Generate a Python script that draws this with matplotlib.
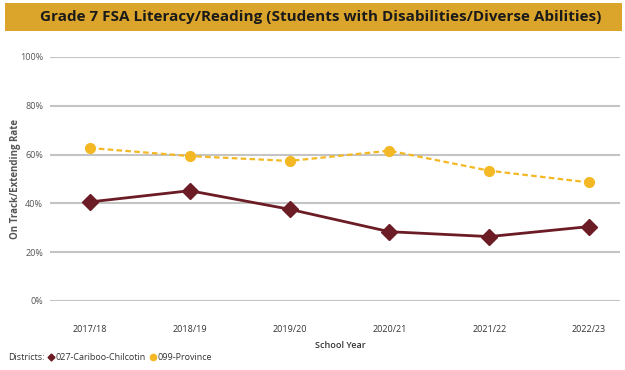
import matplotlib
matplotlib.use("Agg")
import matplotlib.pyplot as plt
from matplotlib.lines import Line2D
from matplotlib.patches import Rectangle

years = ["2017/18", "2018/19", "2019/20", "2020/21", "2021/22", "2022/23"]
cariboo = [40.6, 45.2, 37.6, 28.4, 26.4, 30.5]
province = [62.7, 59.4, 57.4, 61.6, 53.4, 48.6]
yticks = [0, 20, 40, 60, 80, 100]
ytick_labels = ["0%", "20%", "40%", "60%", "80%", "100%"]

maroon = "#6B1C24"
gold = "#F4B824"
banner = "#DBA52B"
grey_text = "#555555"

W, H = 625, 370
fig = plt.figure(figsize=(W / 100, H / 100), dpi=100)
fig.patch.set_facecolor("white")

# title banner
fig.patches.append(Rectangle((5 / W, 1 - 31 / H), 617 / W, 28 / H,
                             transform=fig.transFigure, facecolor=banner,
                             edgecolor="none"))
fig.text(321 / W, 1 - 17.5 / H,
         "Grade 7 FSA Literacy/Reading (Students with Disabilities/Diverse Abilities)",
         ha="center", va="center", fontsize=11, fontweight="bold",
         family="Open Sans", color="#1a1a1a")

ax = fig.add_axes([50 / W, 1 - 301 / H, 570 / W, 244 / H])
x = list(range(len(years)))
ax.set_xlim(-0.4, 5.31)
ax.set_ylim(0, 100)

for v in yticks:
    ax.axhline(v, color="#C4C4C4", lw=1.5, zorder=1)

ax.plot(x, province, color=gold, lw=1.6, ls=(0, (2.5, 1.5)), marker="o",
        ms=7, zorder=3, clip_on=False)
ax.plot(x, cariboo, color=maroon, lw=2, marker="D", ms=8, zorder=4,
        clip_on=False)

for s in ax.spines.values():
    s.set_visible(False)
ax.set_yticks(yticks)
ax.set_yticklabels(ytick_labels, fontsize=6.5, color=grey_text, family="Open Sans")
ax.set_xticks(x)
ax.set_xticklabels(years, fontsize=6.5, color="#333333", family="Open Sans")
ax.tick_params(length=0)
ax.tick_params(axis="y", pad=5)
ax.tick_params(axis="x", pad=17)
ax.set_ylabel("On Track/Extending Rate", fontsize=7, fontweight="bold",
              color=grey_text, family="Open Sans")
ax.yaxis.set_label_coords((21 - 50) / 570, 0.5)
ax.set_xlabel("School Year", fontsize=6.5, fontweight="semibold",
              color="#333333", family="Open Sans")
ax.xaxis.set_label_coords((340 - 50) / 570, -(341 - 301) / 244)

# legend row
fig.text(8 / W, 1 - 358 / H, "Districts:", fontsize=6.5, color="#333333",
         family="Open Sans", va="center", ha="left")
handles = [Line2D([], [], color=maroon, marker="D", ls="none", ms=3.5),
           Line2D([], [], color=gold, marker="o", ls="none", ms=4.5)]
fig.legend(handles, ["027-Cariboo-Chilcotin", "099-Province"], ncol=2,
           loc="center left", bbox_to_anchor=(49 / W, 1 - 358 / H),
           frameon=False, handlelength=0.5, handletextpad=0.2,
           columnspacing=0.6, borderpad=0, borderaxespad=0,
           prop={"family": "Open Sans", "size": 6.5}, labelcolor="#333333")

fig.savefig("out.png", dpi=100, facecolor="white")
